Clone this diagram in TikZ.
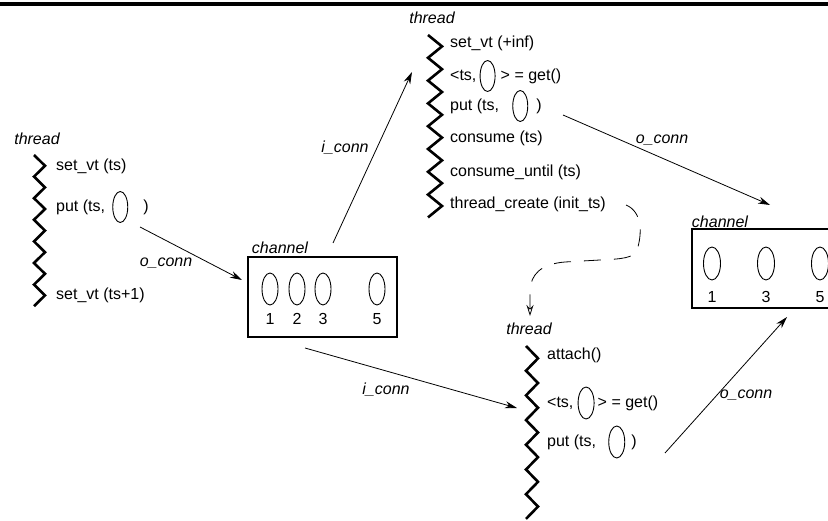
\documentclass[tikz,border=0pt]{standalone}
\usepackage{fontspec}
\setmainfont{Liberation Sans}
\usetikzlibrary{positioning,shapes.geometric,arrows.meta}

\begin{document}
\begin{tikzpicture}[x=1pt, y=-1pt,
    txt/.style={font=\fontsize{16}{18}\selectfont, inner sep=0pt, anchor=west},
    tag/.style={font=\fontsize{16}{18}\selectfont\itshape, inner sep=0pt},
    slot/.style={draw, ellipse, line width=0.9pt, minimum width=15pt, minimum height=31pt, inner sep=0pt},
    chanbox/.style={draw, line width=2.8pt, inner sep=0pt},
    conn/.style={-{Stealth[length=12pt, width=7pt]}, line width=0.8pt},
    zig/.style={line width=2.6pt, line join=miter}]

    \clip (0,0) rectangle (828,521);
    \fill[white] (0,0) rectangle (828,521);

    % Top rule
    \draw[line width=4pt] (0,4.5) -- (828,4.5);

    % Left thread
    \node[tag] (thrA) at (37,139) {thread};
    \draw[zig] (34,155) \foreach \k in {1,...,7} { -- ++(11,10.8) -- ++(-11,10.8) };
    \node[txt] (aSet) at (56,166) {set\_vt (ts)};
    \node[txt] (aPut) at (56,207) {put (ts,};
    \node[slot, right=7pt of aPut] (aSlot) {};
    \node[txt, right=15pt of aSlot] (aPutEnd) {)};
    \node[txt] (aSetB) at (56,295) {set\_vt (ts+1)};

    % Middle channel
    \node[tag] (chA) at (280,248) {channel};
    \node[chanbox, minimum width=149pt, minimum height=80pt] (boxA) at (322.5,297) {};
    \foreach \x/\n in {270/1, 297/2, 323/3, 377/5} {
        \node[slot, minimum width=16pt, minimum height=32pt] (sA\n) at (\x,289) {};
        \node[txt, anchor=center] (nA\n) at (\x,319) {\n};
    }

    % Top thread
    \node[tag] (thrB) at (432,18) {thread};
    \draw[zig] (428,35) \foreach \k in {1,...,8} { -- ++(14,11.4) -- ++(-14,11.4) };
    \node[txt] (bSet) at (450,43) {set\_vt (+inf)};
    \node[txt] (bGet) at (450,76) {<ts,};
    \node[slot, right=3pt of bGet] (bSlotA) {};
    \node[txt, right=5pt of bSlotA] (bGetEnd) {> = get()};
    \node[txt] (bPut) at (450,106) {put (ts,};
    \node[slot, right=13pt of bPut] (bSlotB) {};
    \node[txt, right=8pt of bSlotB] (bPutEnd) {)};
    \node[txt] (bCons) at (450,138) {consume (ts)};
    \node[txt] (bUntil) at (450,172) {consume\_until (ts)};
    \node[txt] (bCreate) at (450,204) {thread\_create (init\_ts)};

    % Bottom thread
    \node[tag] (thrC) at (529,329) {thread};
    \draw[zig] (526,346) \foreach \k in {1,...,7} { -- ++(12,12.35) -- ++(-12,12.35) };
    \node[txt] (cAtt) at (547,355) {attach()};
    \node[txt] (cGet) at (547,403) {<ts,};
    \node[slot, minimum width=16pt, minimum height=32pt, right=4pt of cGet] (cSlotA) {};
    \node[txt, right=3pt of cSlotA] (cGetEnd) {> = get()};
    \node[txt] (cPut) at (547,442) {put (ts,};
    \node[slot, minimum width=16pt, minimum height=32pt, right=12pt of cPut] (cSlotB) {};
    \node[txt, right=6pt of cSlotB] (cPutEnd) {)};

    % Right channel
    \node[tag] (chB) at (720,222) {channel};
    \node[chanbox, minimum width=160pt, minimum height=79pt] (boxB) at (772,268.5) {};
    \foreach \x/\n in {712/1, 766/3, 820/5} {
        \node[slot, minimum width=17pt, minimum height=33pt] (sB\n) at (\x,263.5) {};
        \node[txt, anchor=center] (nB\n) at (\x,297) {\n};
    }

    % Connections
    \coordinate (oA1) at (140,227);
    \coordinate (oA2) at (242,280);
    \draw[conn] (oA1) -- (oA2);
    \node[tag] (oAl) at (166,263) {o\_conn};

    \coordinate (iA1) at (333,243);
    \coordinate (iA2) at (412,72);
    \draw[conn] (iA1) -- (iA2);
    \node[tag] (iAl) at (345,148) {i\_conn};

    \coordinate (oB1) at (563,115);
    \coordinate (oB2) at (770,205);
    \draw[conn] (oB1) -- (oB2);
    \node[tag] (oBl) at (662,140) {o\_conn};

    \coordinate (iB1) at (305,348);
    \coordinate (iB2) at (517,408);
    \draw[conn] (iB1) -- (iB2);
    \node[tag] (iBl) at (386,390) {i\_conn};

    \coordinate (oC1) at (665,453);
    \coordinate (oC2) at (787,317);
    \draw[conn] (oC1) -- (oC2);
    \node[tag] (oCl) at (746,395) {o\_conn};

    % Thread creation
    \coordinate (crt) at (626,205);
    \coordinate (crtEnd) at (530,316);
    \draw[line width=0.8pt, dash pattern=on 17pt off 13pt, -{Stealth[open, length=11pt, width=7pt]}]
        (crt) .. controls (643,212) and (642,235) .. (637,250)
        .. controls (634,258) and (622,259) .. (600,260) -- (565,262)
        .. controls (540,264) and (531,275) .. (530,290) -- (crtEnd);

\end{tikzpicture}
\end{document}
